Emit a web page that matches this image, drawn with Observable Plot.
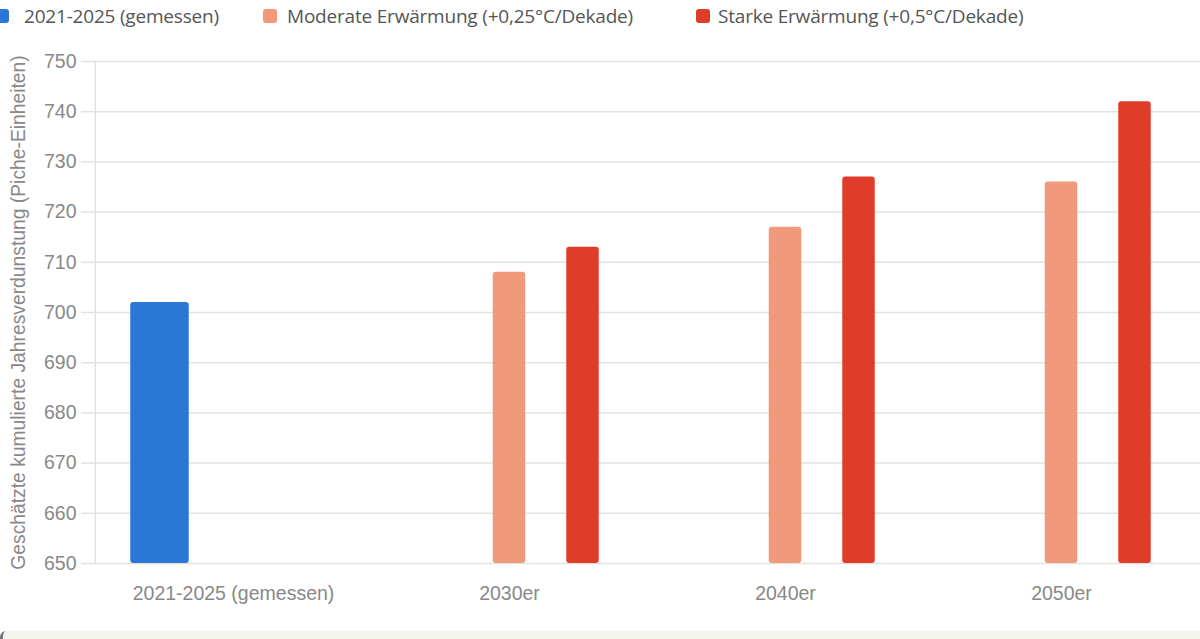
<!DOCTYPE html>
<html>
<head>
<meta charset="utf-8">
<script src="https://cdn.jsdelivr.net/npm/d3@7"></script>
<script src="https://cdn.jsdelivr.net/npm/@observablehq/plot@0.6"></script>
<style>
  html, body { margin: 0; padding: 0; background: #fff; width: 1200px; height: 639px; overflow: hidden; }
  #wrap { position: relative; width: 1200px; height: 639px; }
  #legend { position: absolute; top: 4px; left: 0; height: 24px; font-family: "Open Sans", "Noto Sans", sans-serif; font-size: 19px; letter-spacing: -0.2px; color: #555; white-space: nowrap; }
  #legend .item { position: absolute; top: 0; display: flex; align-items: center; height: 24px; }
  #legend .sw { flex-shrink: 0; width: 14px; height: 14px; border-radius: 3px; }
  #chart { position: absolute; top: 0; left: 0; }
  #footer { position: absolute; left: 0; top: 631px; width: 1200px; height: 8px; background: #f4f4ef; border-top-left-radius: 6px; border-left: 3px solid #777; box-sizing: border-box; }
</style>
</head>
<body>
<div id="wrap">
  <div id="chart"></div>
  <div id="legend"></div>
  <div id="footer"></div>
</div>
<script>
const categories = ["2021-2025 (gemessen)", "2030er", "2040er", "2050er"];
const seriesNames = ["2021-2025 (gemessen)", "Moderate Erwärmung (+0,25°C/Dekade)", "Starke Erwärmung (+0,5°C/Dekade)"];
const seriesColors = ["#2a78d6", "#f0997b", "#e03c2a"];
const measured = [702, null, null, null];
const moderate = [null, 708, 717, 726];
const strong = [null, 713, 727, 742];
const yTicks = [650, 660, 670, 680, 690, 700, 710, 720, 730, 740, 750];
const yLabel = "Geschätzte kumulierte Jahresverdunstung (Piche-Einheiten)";

const toRows = (vals, s) => categories.map((c, i) => ({cat: c, value: vals[i], series: s})).filter(d => d.value != null);
const rowsMeasured = toRows(measured, seriesNames[0]);
const rowsModerate = toRows(moderate, seriesNames[1]);
const rowsStrong = toRows(strong, seriesNames[2]);

// legend
const swatchX = [-5, 263, 696];
const labelX = [24, 287, 718];
const legend = document.getElementById("legend");
seriesNames.forEach((n, i) => {
  const it = document.createElement("div");
  it.className = "item";
  it.style.left = swatchX[i] + "px";
  it.innerHTML = `<span class="sw" style="background:${seriesColors[i]}"></span>`;
  legend.appendChild(it);
  const lb = document.createElement("div");
  lb.className = "item";
  lb.style.left = labelX[i] + "px";
  lb.textContent = n;
  legend.appendChild(lb);
});

const bandW = (1200 - 94) / categories.length;
const slot = 73.5;
const narrow = 33, wide = 59;
const grid = "#e3e2dc";

const chart = Plot.plot({
  width: 1200,
  height: 630,
  marginTop: 61,
  marginBottom: 67,
  marginLeft: 94,
  marginRight: 0,
  style: { fontFamily: "Arial, 'Liberation Sans', sans-serif", fontSize: "19.5px", color: "#888", background: "transparent" },
  x: { domain: categories, padding: 0, label: null },
  y: { domain: [650, 750], ticks: yTicks, label: null },
  marks: [
    Plot.gridY(yTicks, { stroke: grid, strokeOpacity: 1, strokeWidth: 1.5 }),
    Plot.axisY({ ticks: yTicks, tickSize: 13, tickPadding: 5, stroke: grid, strokeOpacity: 1, strokeWidth: 1.5, fill: "#888", fontSize: 19.5, label: null }),
    Plot.ruleX([0], { x: () => categories[0], dx: -bandW / 2, y1: 650, y2: 750, stroke: grid, strokeWidth: 1.5 }),
    Plot.axisX({ tickSize: 0, tickPadding: 23, fill: "#888", fontSize: 19.5, label: null }),
    Plot.barY(rowsMeasured, { x: "cat", y1: 650, y2: "value", fill: seriesColors[0], dx: -slot, insetLeft: (bandW - wide) / 2, insetRight: (bandW - wide) / 2, r: 3 }),
    Plot.barY(rowsModerate, { x: "cat", y1: 650, y2: "value", fill: seriesColors[1], insetLeft: (bandW - narrow) / 2, insetRight: (bandW - narrow) / 2, r: 3 }),
    Plot.barY(rowsStrong, { x: "cat", y1: 650, y2: "value", fill: seriesColors[2], dx: slot, insetLeft: (bandW - narrow) / 2, insetRight: (bandW - narrow) / 2, r: 3 }),
    Plot.text([yLabel], { frameAnchor: "left", textAnchor: "middle", lineAnchor: "middle", dx: -76, rotate: -90, fill: "#888", fontSize: 19.3 })
  ]
});
document.getElementById("chart").appendChild(chart);
</script>
</body>
</html>
